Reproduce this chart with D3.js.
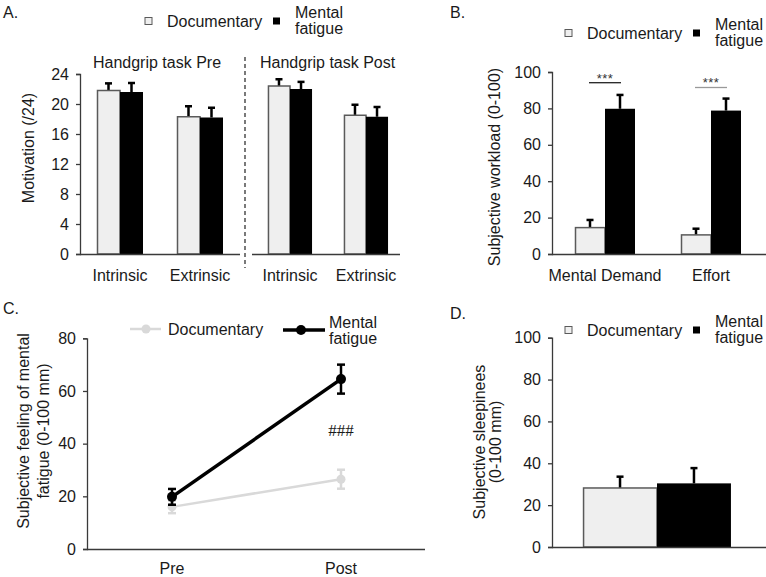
<!DOCTYPE html>
<html><head><meta charset="utf-8">
<script src="https://cdn.jsdelivr.net/npm/d3@7"></script>
<style>body{margin:0;background:#fff}svg{display:block;font-family:"Liberation Sans",Arial,sans-serif}</style>
</head><body><svg id="c" width="766" height="577"></svg>
<script>
// ---- data ----
const groups = ["Documentary", "Mental fatigue"];
const motivationCats = ["Intrinsic", "Extrinsic"];
const motivationPreDoc = [21.8, 18.3];
const motivationPreDocErr = [0.95, 1.4];
const motivationPreMF = [21.6, 18.2];
const motivationPreMFErr = [1.2, 1.3];
const motivationPostDoc = [22.4, 18.5];
const motivationPostDocErr = [0.9, 1.4];
const motivationPostMF = [22.0, 18.3];
const motivationPostMFErr = [0.95, 1.3];
const motivationTicks = [0, 4, 8, 12, 16, 20, 24];

const workloadCats = ["Mental Demand", "Effort"];
const workloadDoc = [14.5, 10.5];
const workloadDocErr = [4.2, 3.4];
const workloadMF = [79.8, 78.8];
const workloadMFErr = [7.6, 6.6];
const workloadTicks = [0, 20, 40, 60, 80, 100];

const timeCats = ["Pre", "Post"];
const fatigueDoc = [16.0, 26.5];
const fatigueDocErr = [2.4, 3.6];
const fatigueMF = [19.8, 64.5];
const fatigueMFErr = [3.0, 5.5];
const fatigueTicks = [0, 20, 40, 60, 80];

const sleepCats = [""];
const sleepDoc = [28.2];
const sleepDocErr = [5.4];
const sleepMF = [30.4];
const sleepMFErr = [7.3];
const sleepTicks = [0, 20, 40, 60, 80, 100];

// ---- styles ----
const TXT = "#1a1a1a", AX = "#3a3a3a", DOCFILL = "#efefef", DOCSTROKE = "#5a5a5a", MF = "#000";
const FS = 16;
const svg = d3.select("#c");

function yAxis(g, y, ticks) {
  g.call(d3.axisLeft(y).tickValues(ticks).tickSize(4).tickPadding(7).tickFormat(d3.format("d")));
  g.select(".domain").attr("stroke", AX).attr("stroke-width", 1.3);
  g.selectAll(".tick line").attr("stroke", AX).attr("stroke-width", 1.3);
  g.selectAll(".tick text").attr("fill", TXT).style("font-size", FS + "px").style("font-family", "Liberation Sans, Arial, sans-serif");
}
function xLine(x1, x2, yv) {
  svg.append("line").attr("x1", x1).attr("x2", x2).attr("y1", yv).attr("y2", yv).attr("stroke", AX).attr("stroke-width", 1.3);
}
function text(x, y, s, opts = {}) {
  const t = svg.append("text").attr("x", x).attr("y", y).text(s)
    .attr("fill", opts.fill || TXT).style("font-size", (opts.size || FS) + "px")
    .attr("text-anchor", opts.anchor || "start").attr("dy", "0.35em");
  if (opts.family) t.style("font-family", opts.family);
  if (opts.rotate) t.attr("transform", `rotate(-90,${x},${y})`).attr("text-anchor", "middle");
  return t;
}
function barLegend(x, y) {
  svg.append("rect").attr("x", x).attr("y", y - 3.5).attr("width", 7).attr("height", 7)
    .attr("fill", DOCFILL).attr("stroke", DOCSTROKE).attr("stroke-width", 1);
  text(x + 22, y, "Documentary");
  svg.append("rect").attr("x", x + 128).attr("y", y - 3.5).attr("width", 7).attr("height", 7).attr("fill", MF);
  text(x + 150, y - 9, "Mental");
  text(x + 150, y + 7, "fatigue");
}
function bars(xBand, y, cats, doc, docErr, mf, mfErr) {
  const inner = d3.scaleBand().domain(groups).range([0, xBand.bandwidth()]);
  const rows = [];
  cats.forEach((c, i) => {
    rows.push({ c, g: groups[0], v: doc[i], e: docErr[i] });
    rows.push({ c, g: groups[1], v: mf[i], e: mfErr[i] });
  });
  rows.forEach(r => {
    const x0 = xBand(r.c) + inner(r.g), w = inner.bandwidth(), cx = x0 + w / 2;
    const top = y(r.v), et = y(r.v + r.e);
    svg.append("line").attr("x1", cx).attr("x2", cx).attr("y1", top).attr("y2", et).attr("stroke", "#000").attr("stroke-width", 2.5);
    svg.append("line").attr("x1", cx - 3.5).attr("x2", cx + 3.5).attr("y1", et).attr("y2", et).attr("stroke", "#000").attr("stroke-width", 2.5);
    const isDoc = r.g === groups[0];
    svg.append("rect").attr("x", x0 + (isDoc ? 0.5 : 0)).attr("y", top).attr("width", w - (isDoc ? 0.5 : 0)).attr("height", y(0) - top)
      .attr("fill", isDoc ? DOCFILL : MF).attr("stroke", isDoc ? DOCSTROKE : MF).attr("stroke-width", isDoc ? 1.5 : 0);
  });
}

// ===== Panel A =====
text(3, 12, "A.");
barLegend(145, 21);
const yA = d3.scaleLinear().domain([0, 24]).range([254, 74]);
svg.append("g").attr("transform", "translate(80,0)").call(g => yAxis(g, yA, motivationTicks));
const xPre = d3.scaleBand().domain(motivationCats).range([80, 240]).paddingInner(0.425).paddingOuter(0.2125);
const xPost = d3.scaleBand().domain(motivationCats).range([252, 404]).paddingInner(0.42).paddingOuter(0.21);
bars(xPre, yA, motivationCats, motivationPreDoc, motivationPreDocErr, motivationPreMF, motivationPreMFErr);
bars(xPost, yA, motivationCats, motivationPostDoc, motivationPostDocErr, motivationPostMF, motivationPostMFErr);
xLine(80, 240, 254.5);
xLine(252, 400, 254.5);
svg.append("line").attr("x1", 245).attr("x2", 245).attr("y1", 57).attr("y2", 268)
  .attr("stroke", "#222").attr("stroke-width", 1.2).attr("stroke-dasharray", "4,3");
text(157, 62, "Handgrip task Pre", { anchor: "middle" });
text(260, 62, "Handgrip task Post");
motivationCats.forEach(c => {
  text(xPre(c) + xPre.bandwidth() / 2, 275, c, { anchor: "middle" });
  text(xPost(c) + xPost.bandwidth() / 2, 275, c, { anchor: "middle" });
});
text(28, 148, "Motivation (/24)", { rotate: true });

// ===== Panel B =====
text(450, 12, "B.");
barLegend(565, 33);
const yB = d3.scaleLinear().domain([0, 100]).range([254, 72]);
svg.append("g").attr("transform", "translate(552,0)").call(g => yAxis(g, yB, workloadTicks));
const xB = d3.scaleBand().domain(workloadCats).range([552, 764]).paddingInner(0.434).paddingOuter(0.217);
bars(xB, yB, workloadCats, workloadDoc, workloadDocErr, workloadMF, workloadMFErr);
xLine(552, 766, 254.5);
workloadCats.forEach(c => text(xB(c) + xB.bandwidth() / 2, 275, c, { anchor: "middle" }));
text(494, 167, "Subjective workload (0-100)", { rotate: true });
// significance markers
const sigs = [{ c: workloadCats[0], ly: 82.7, sy: 78, col: "#222" }, { c: workloadCats[1], ly: 87.5, sy: 82, col: "#999" }];
sigs.forEach(s => {
  const cx = xB(s.c) + xB.bandwidth() / 2;
  svg.append("line").attr("x1", cx - 16).attr("x2", cx + 16).attr("y1", s.ly).attr("y2", s.ly).attr("stroke", s.col).attr("stroke-width", 1.3);
  text(cx, s.sy, "***", { anchor: "middle", size: 13, fill: "#333" }).attr("letter-spacing", 0.5);
});

// ===== Panel C =====
text(3, 308, "C.");
const yC = d3.scaleLinear().domain([0, 80]).range([549, 338.3]);
svg.append("g").attr("transform", "translate(87,0)").call(g => yAxis(g, yC, fatigueTicks));
xLine(87, 425, 549.5);
const xC = d3.scalePoint().domain(timeCats).range([172, 341]);
timeCats.forEach(c => text(xC(c), 568, c, { anchor: "middle" }));
const series = [
  { vals: fatigueDoc, errs: fatigueDocErr, col: "#d9d9d9", w: 2.5, r: 4.5 },
  { vals: fatigueMF, errs: fatigueMFErr, col: "#000", w: 3.5, r: 5 }
];
series.forEach(s => {
  const pts = timeCats.map((c, i) => [xC(c), yC(s.vals[i])]);
  svg.append("path").attr("d", d3.line()(pts)).attr("stroke", s.col).attr("stroke-width", s.w).attr("fill", "none");
  timeCats.forEach((c, i) => {
    const cx = xC(c), t = yC(s.vals[i] + s.errs[i]), b = yC(s.vals[i] - s.errs[i]);
    svg.append("line").attr("x1", cx).attr("x2", cx).attr("y1", t).attr("y2", b).attr("stroke", s.col).attr("stroke-width", 2.5);
    [t, b].forEach(yy => svg.append("line").attr("x1", cx - 4).attr("x2", cx + 4).attr("y1", yy).attr("y2", yy).attr("stroke", s.col).attr("stroke-width", 2.5));
    svg.append("circle").attr("cx", cx).attr("cy", yC(s.vals[i])).attr("r", s.r).attr("fill", s.col);
  });
});
text(xC("Post"), 430, "###", { anchor: "middle", size: 17, family: "Liberation Serif, serif" });
// legend C
svg.append("line").attr("x1", 130).attr("x2", 161).attr("y1", 329).attr("y2", 329).attr("stroke", "#d9d9d9").attr("stroke-width", 2.5);
svg.append("circle").attr("cx", 146).attr("cy", 329).attr("r", 4.5).attr("fill", "#d9d9d9");
text(168, 329, "Documentary");
svg.append("line").attr("x1", 283).attr("x2", 325).attr("y1", 330).attr("y2", 330).attr("stroke", "#000").attr("stroke-width", 3.5);
svg.append("circle").attr("cx", 301).attr("cy", 330).attr("r", 5).attr("fill", "#000");
text(329, 322, "Mental");
text(329, 338, "fatigue");
text(23, 431, "Subjective feeling of mental", { rotate: true });
text(43, 431, "fatigue (0-100 mm)", { rotate: true });

// ===== Panel D =====
text(450, 313, "D.");
barLegend(565, 330);
const yD = d3.scaleLinear().domain([0, 100]).range([547, 337.7]);
svg.append("g").attr("transform", "translate(552,0)").call(g => yAxis(g, yD, sleepTicks));
const xD = d3.scaleBand().domain(sleepCats).range([552, 762]).paddingInner(0).paddingOuter(0.21);
bars(xD, yD, sleepCats, sleepDoc, sleepDocErr, sleepMF, sleepMFErr);
xLine(552, 766, 547.5);
text(479, 442, "Subjective sleepinees", { rotate: true });
text(495, 442, "(0-100 mm)", { rotate: true });
</script></body></html>
